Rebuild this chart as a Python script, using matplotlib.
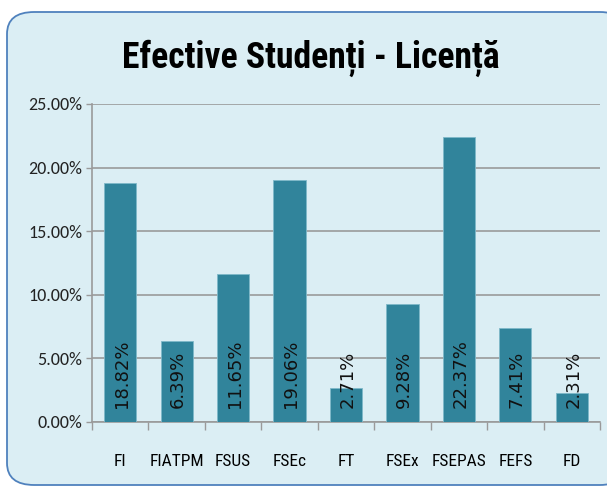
import numpy as np
import matplotlib.pyplot as plt
from matplotlib.patches import FancyBboxPatch
from matplotlib.ticker import FuncFormatter, FixedLocator

# date grafic
facultati = ["FI", "FIATPM", "FSUS", "FSEc", "FT", "FSEx", "FSEPAS", "FEFS", "FD"]
procente = [18.82, 6.39, 11.65, 19.06, 2.71, 9.28, 22.37, 7.41, 2.31]
y_ticks = [0, 5, 10, 15, 20, 25]

narrow = ["Roboto Condensed", "DejaVu Sans"]
calibri = ["Carlito", "DejaVu Sans"]
gri = "#9a9a9a"

fig = plt.figure(figsize=(6.07, 4.88), dpi=100, facecolor="white")

# chenar rotunjit de fundal
box = FancyBboxPatch((7 / 607, 3 / 488), 620 / 607, 473 / 488,
                     boxstyle="round,pad=0,rounding_size=0.045",
                     transform=fig.transFigure, facecolor="#dbeef4",
                     edgecolor="#4f81bd", linewidth=1.3, zorder=-10)
fig.patches.append(box)

ax = fig.add_axes([92 / 607, 1 - 422 / 488, 508 / 607, 318 / 488])
ax.set_facecolor("none")
ax.set_zorder(2)

x = np.arange(len(facultati))
ax.bar(x, procente, width=0.57, color="#31849b", edgecolor="#7fb8c9",
       linewidth=0.6, zorder=3)

# etichete verticale cu valorile
for xi, v in zip(x, procente):
    ax.annotate(f"{v:.2f}%", (xi, 0), xytext=(1, 10), textcoords="offset points",
                rotation=90, ha="center", va="bottom", fontsize=13,
                family="DejaVu Sans", color="#111111", zorder=4)

ax.set_xlim(-0.5, len(facultati) - 0.5)
ax.set_ylim(0, 25)
ax.set_yticks(y_ticks)
ax.yaxis.set_major_formatter(FuncFormatter(lambda v, p: f"{v:.2f}%"))
ax.grid(axis="y", color=gri, linewidth=1.2, zorder=0)

ax.set_xticks(x)
ax.set_xticklabels(facultati, family=narrow, fontsize=12.5)
ax.xaxis.set_minor_locator(FixedLocator(np.arange(-0.5, len(facultati), 1)))
ax.tick_params(axis="x", which="major", length=0, pad=23)
ax.tick_params(axis="x", which="minor", length=6, color=gri, width=1)
ax.tick_params(axis="y", length=4, color=gri, width=1, pad=3)
for lbl in ax.get_yticklabels():
    lbl.set_family(calibri)
    lbl.set_fontsize(13)
    lbl.set_color("#222222")

for s in ["top", "right"]:
    ax.spines[s].set_visible(False)
for s in ["left", "bottom"]:
    ax.spines[s].set_color(gri)
    ax.spines[s].set_linewidth(1.2)

fig.text(311 / 607, 1 - 58 / 488, "Efective Studenți - Licență", ha="center",
         va="center", fontsize=25.7, fontweight="bold", family=narrow)

fig.savefig("out.png", dpi=100)
